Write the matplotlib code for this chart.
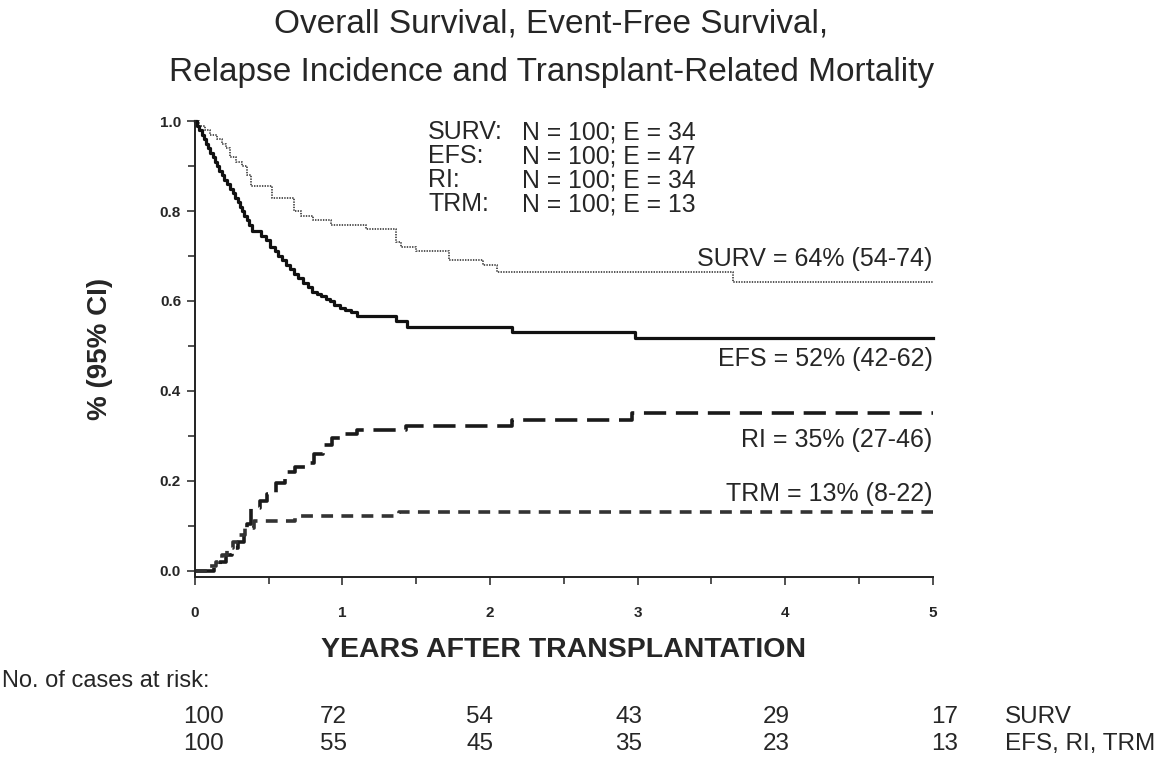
import numpy as np
import matplotlib
matplotlib.use("Agg")
import matplotlib.pyplot as plt
from matplotlib.ticker import MultipleLocator, FixedLocator

plt.rcParams['font.family'] = ['Liberation Sans', 'DejaVu Sans']
plt.rcParams['lines.scale_dashes'] = False

# Kaplan-Meier / cumulative incidence step data (years, probability)
surv_t = [0, 0.03, 0.07, 0.10, 0.15, 0.18, 0.21, 0.24, 0.28, 0.32, 0.35, 0.38, 0.52,
          0.67, 0.72, 0.80, 0.92, 1.16, 1.36, 1.40, 1.50, 1.72, 1.95, 2.05, 3.65]
surv_s = [1.0, 0.99, 0.98, 0.97, 0.96, 0.95, 0.94, 0.92, 0.91, 0.90, 0.88, 0.855, 0.83,
          0.80, 0.79, 0.78, 0.77, 0.76, 0.73, 0.72, 0.71, 0.69, 0.68, 0.665, 0.643]

efs_t = [0.000, 0.015, 0.030, 0.045, 0.060, 0.075, 0.090, 0.105, 0.120, 0.135,
         0.150, 0.165, 0.180, 0.200, 0.220, 0.240, 0.255, 0.270, 0.290, 0.305,
         0.320, 0.335, 0.350, 0.365, 0.385, 0.450, 0.480, 0.510, 0.540, 0.565,
         0.590, 0.620, 0.645, 0.670, 0.700, 0.735, 0.765, 0.795, 0.825, 0.855,
         0.885, 0.915, 0.945, 0.980, 1.020, 1.060, 1.100, 1.360, 1.440, 2.150,
         2.980]
efs_s = [1.00, 0.99, 0.98, 0.97, 0.96, 0.95, 0.94, 0.93, 0.92, 0.91,
         0.90, 0.89, 0.88, 0.87, 0.86, 0.85, 0.84, 0.83, 0.82, 0.81,
         0.80, 0.79, 0.78, 0.77, 0.755, 0.745, 0.735, 0.72, 0.71, 0.70,
         0.69, 0.68, 0.67, 0.66, 0.65, 0.64, 0.63, 0.62, 0.615, 0.61,
         0.605, 0.60, 0.59, 0.585, 0.58, 0.575, 0.567, 0.555, 0.543, 0.530,
         0.518]

ri_t = [0, 0.13, 0.17, 0.21, 0.25, 0.29, 0.33, 0.355, 0.38, 0.44, 0.49, 0.55, 0.61,
        0.68, 0.75, 0.81, 0.87, 0.93, 1.00, 1.10, 1.43, 2.15, 2.96]
ri_c = [0, 0.01, 0.02, 0.035, 0.05, 0.065, 0.08, 0.105, 0.14, 0.155, 0.17, 0.195, 0.22,
        0.23, 0.24, 0.26, 0.28, 0.295, 0.305, 0.313, 0.323, 0.335, 0.352]

trm_t = [0, 0.10, 0.14, 0.18, 0.22, 0.26, 0.30, 0.34, 0.40, 0.68, 1.38]
trm_c = [0, 0.01, 0.02, 0.035, 0.05, 0.065, 0.08, 0.095, 0.112, 0.122, 0.132]

stats_names = ["SURV:", "EFS:", "RI:", "TRM:"]
stats_n = [100, 100, 100, 100]
stats_e = [34, 47, 34, 13]

end_labels = ["SURV = 64% (54-74)", "EFS = 52% (42-62)", "RI = 35% (27-46)", "TRM = 13% (8-22)"]

risk_years = [0, 1, 2, 3, 4, 5]
risk_surv = [100, 72, 54, 43, 29, 17]
risk_other = [100, 55, 45, 35, 23, 13]
risk_row_names = ["SURV", "EFS, RI, TRM"]

X_END = 5.0
TXT = '#262626'

fig = plt.figure(figsize=(11.66, 7.63), dpi=100)
ax = fig.add_axes([0.1672, 0.2442, 0.6326, 0.5972])


def steps(t, v):
    return np.append(t, X_END), np.append(v, v[-1])


x, y = steps(surv_t, surv_s)
ax.step(x, y, where='post', color='#555555', lw=1.4, linestyle=(0, (1.0, 0.9)),
        clip_on=False)
x, y = steps(efs_t, efs_s)
ax.step(x, y, where='post', color='#111111', lw=2.3, clip_on=False)
x, y = steps(ri_t, ri_c)
ax.step(x, y, where='post', color='#1a1a1a', lw=2.6, linestyle=(0, (16, 7)),
        clip_on=False)
x, y = steps(trm_t, trm_c)
ax.step(x, y, where='post', color='#333333', lw=2.6, linestyle=(0, (8.5, 6)),
        clip_on=False)

ax.set_xlim(0, 5)
ax.set_ylim(-0.0127, 1.0)
for s in ('top', 'right'):
    ax.spines[s].set_visible(False)
for s in ('left', 'bottom'):
    ax.spines[s].set_linewidth(1.4)
    ax.spines[s].set_color('#222222')

ax.xaxis.set_major_locator(MultipleLocator(1))
ax.xaxis.set_minor_locator(MultipleLocator(0.5))
ax.yaxis.set_major_locator(FixedLocator([0, 0.2, 0.4, 0.6, 0.8, 1.0]))
ax.yaxis.set_minor_locator(FixedLocator([0.1, 0.3, 0.5, 0.7, 0.9]))
ax.set_yticklabels(["0.0", "0.2", "0.4", "0.6", "0.8", "1.0"])
ax.tick_params(which='both', direction='out', color='#222222', width=1.1,
               labelsize=11, labelcolor=TXT)
ax.tick_params(which='major', length=6)
ax.tick_params(which='minor', length=5)
ax.tick_params(axis='y', which='major', pad=4)
ax.tick_params(axis='x', which='major', pad=15)
for lab in ax.get_xticklabels() + ax.get_yticklabels():
    lab.set_fontweight('bold')

ax.set_ylabel("% (95% CI)", fontsize=20, fontweight='bold', color=TXT, labelpad=34)
ax.set_xlabel("YEARS AFTER TRANSPLANTATION", fontsize=20.5, fontweight='bold',
              color=TXT, labelpad=12)

fig.text(0.473, 0.969, "Overall Survival, Event-Free Survival,", ha='center',
         va='center', fontsize=24, color=TXT)
fig.text(0.473, 0.905, "Relapse Incidence and Transplant-Related Mortality",
         ha='center', va='center', fontsize=24, color=TXT)

# N / events block
for i, (nm, n, e) in enumerate(zip(stats_names, stats_n, stats_e)):
    yy = 0.975 - i * 0.0527
    ax.text(0.316, yy, nm, transform=ax.transAxes, fontsize=18, color=TXT,
            va='center', ha='left')
    ax.text(0.444, yy, f"N = {n}; E = {e}", transform=ax.transAxes, fontsize=17.8,
            color=TXT, va='center', ha='left')

# estimates at 5 years
end_y = [0.694, 0.470, 0.290, 0.170]
for lab, yy in zip(end_labels, end_y):
    ax.text(X_END, yy, lab, ha='right', va='center', fontsize=18, color=TXT)

# numbers at risk
fig.text(0.002, 0.108, "No. of cases at risk:", fontsize=17, color=TXT,
         ha='left', va='center')
risk_off = [0.06, -0.06, -0.07, -0.06, -0.06, 0.08]
for row, (vals, yy) in enumerate(zip([risk_surv, risk_other], [-0.308, -0.367])):
    for yr, v, off in zip(risk_years, vals, risk_off):
        ax.text(yr + off, yy, str(v), ha='center', va='center', fontsize=17.5,
                color=TXT, transform=ax.get_xaxis_transform(), clip_on=False)
    ax.text(5.49, yy, risk_row_names[row], ha='left', va='center', fontsize=17.5,
            color=TXT, transform=ax.get_xaxis_transform(), clip_on=False)

fig.savefig("out.png", dpi=100, facecolor='white')
